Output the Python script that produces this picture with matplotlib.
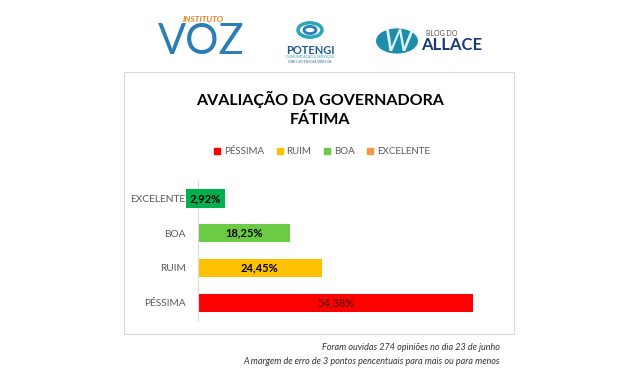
"""Avaliação da governadora Fátima - recreated bar chart."""

import matplotlib.pyplot as plt
from matplotlib.patches import Rectangle, Circle

plt.rcParams["font.family"] = ["Lato", "DejaVu Sans"]

categories = ["PÉSSIMA", "RUIM", "BOA", "EXCELENTE"]
values = [54.38, 24.45, 18.25, 2.92]
value_labels = ["54,38%", "24,45%", "18,25%", "2,92%"]
colors = ["#FF0000", "#FFC000", "#6CCB45", "#00B050"]
legend_colors = ["#FF0000", "#FFC000", "#6CCB45", "#F79646"]
label_colors = ["#3a0000", "black", "black", "black"]
label_weights = ["normal", "bold", "bold", "bold"]

W, H = 640, 384


def fx(px):
    return px / W


def fy(py):
    return 1 - py / H


fig = plt.figure(figsize=(6.4, 3.84), dpi=100)
fig.patch.set_facecolor("white")

# chart frame
fig.patches.append(Rectangle((fx(124), fy(334)), fx(514) - fx(124), fy(72) - fy(334),
                             transform=fig.transFigure, facecolor="white",
                             edgecolor="#D9D9D9", linewidth=0.8, zorder=-1))

# title
fig.text(fx(320), fy(99), "AVALIAÇÃO DA GOVERNADORA", ha="center", va="center",
         fontsize=11.5, fontweight="bold", color="black")
fig.text(fx(320), fy(120), "FÁTIMA", ha="center", va="center",
         fontsize=11.5, fontweight="bold", color="black")

# bars
ax = fig.add_axes([fx(198), fy(320), fx(498) - fx(198), fy(181) - fy(320)])
ax.set_zorder(2)
y = range(len(categories))
ax.barh(y, values, height=0.52, color=colors)
ax.set_xlim(0, 59.3)
ax.set_ylim(-0.5, 3.5)
ax.set_yticks(list(y))
ax.set_yticklabels(categories, fontsize=7.3, color="#595959")
ax.tick_params(axis="y", length=0, pad=9)
ax.set_xticks([])
for side in ["top", "right", "bottom"]:
    ax.spines[side].set_visible(False)
ax.spines["left"].set_color("#D9D9D9")
ax.spines["left"].set_linewidth(0.8)
ax.patch.set_alpha(0)

for i, (v, lab) in enumerate(zip(values, value_labels)):
    if v < 5:
        ax.text(v / 2, i, lab, ha="center", va="center", fontsize=8, fontweight="bold",
                color="black", zorder=5,
                bbox=dict(boxstyle="square,pad=0.35", facecolor=colors[i], edgecolor="none"))
    else:
        ax.text(v / 2, i, lab, ha="center", va="center", fontsize=8,
                fontweight=label_weights[i], color=label_colors[i])

# legend
handles = [Rectangle((0, 0), 1, 1, color=c) for c in legend_colors]
fig.legend(handles, categories, loc="center", bbox_to_anchor=(fx(322), fy(152)),
           ncol=4, frameon=False, fontsize=7, labelcolor="#595959",
           handlelength=0.6, handleheight=0.6, handletextpad=0.4, columnspacing=1.3)

# footer
fig.text(fx(500), fy(348), "Foram ouvidas 274 opiniões no dia 23 de junho", ha="right",
         va="center", fontsize=6.5, style="italic", color="#333333")
fig.text(fx(500), fy(362), "A margem de erro de 3 pontos pencentuais para mais ou para menos",
         ha="right", va="center", fontsize=6.5, style="italic", color="#333333")

# logos (text approximations)
fig.text(fx(203), fy(19), "INSTITUTO", ha="center", va="center", fontsize=6,
         fontweight="bold", style="italic", color="#F07F1E")
fig.text(fx(201), fy(42), "VOZ", ha="center", va="center", fontsize=30,
         fontweight="normal", color="#2A7DB5")

fig.patches.append(Circle((fx(310), fy(30)), 12 / W, transform=fig.transFigure,
                          facecolor="none", edgecolor="#2AA7B8", linewidth=2.5))
fig.patches.append(Circle((fx(310), fy(30)), 6 / W, transform=fig.transFigure,
                          facecolor="none", edgecolor="#2A7DB5", linewidth=2))
fig.text(fx(310), fy(50), "POTENGI", ha="center", va="center", fontsize=8,
         fontweight="bold", color="#1F5A8F")
fig.text(fx(310), fy(57), "COMUNICAÇÃO & SERVIÇOS", ha="center", va="center",
         fontsize=2.5, color="#2A9FB5")
fig.text(fx(310), fy(62), "CNPJ: 40.190.064/0001-08", ha="center", va="center",
         fontsize=2.5, color="#1F5A8F")

fig.patches.append(Circle((fx(397), fy(41)), 21 / W, transform=fig.transFigure,
                          facecolor="#1C8EAA", edgecolor="none"))
fig.text(fx(398), fy(42), "W", ha="center", va="center", fontsize=22,
         style="italic", color="#DDF2F7")
fig.text(fx(442), fy(33), "BLOG DO", ha="center", va="center", fontsize=5,
         color="#555555")
fig.text(fx(452), fy(45), "ALLACE", ha="center", va="center", fontsize=12,
         fontweight="bold", color="#1D3A6E")

fig.savefig("out.png", dpi=100, facecolor="white")
